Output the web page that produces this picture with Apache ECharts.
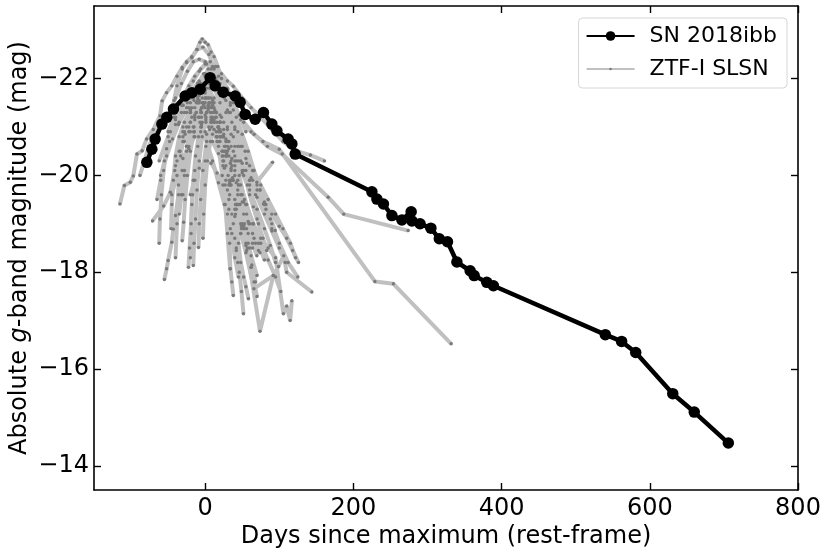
<!DOCTYPE html>
<html>
<head>
<meta charset="utf-8">
<script src="https://cdn.jsdelivr.net/npm/echarts@6/dist/echarts.min.js"></script>
<style>html,body{margin:0;padding:0;background:#fff}#c{width:830px;height:556px}</style>
</head>
<body>
<div id="c"></div>
<script>
// ---- Data ----
const xTicks = [0, 200, 400, 600, 800];
const yTicks = [-22, -20, -18, -16, -14];

const snDays = [-78.7,-71.9,-67.5,-58.4,-51.7,-42.8,-27.0,-17.9,-6.7,6.7,13.5,24.3,40.5,47.2,54.0,67.5,78.7,90.0,96.8,112.0,117.0,121.5,225,231.7,240.6,252,265.5,278,279,290,304.6,316,327,339.7,357.6,363,380,389,540,562,581,631,660,706];
const snMag = [-20.27,-20.54,-20.75,-21.06,-21.20,-21.37,-21.64,-21.71,-21.78,-22.02,-21.85,-21.72,-21.64,-21.51,-21.26,-21.16,-21.30,-21.06,-20.92,-20.75,-20.65,-20.44,-19.66,-19.51,-19.41,-19.17,-19.08,-19.25,-19.06,-19.0,-18.91,-18.69,-18.63,-18.21,-18.03,-17.93,-17.79,-17.72,-16.71,-16.57,-16.34,-15.49,-15.11,-14.47];

const ztf01 = [[-42,-21.55],[-38,-21.85],[-31,-22.2],[-25,-22.35],[-18,-22.45],[-11,-22.6],[-7,-22.75],[-4,-22.82],[0,-22.75],[4,-22.7],[8,-22.55],[12,-22.45],[17,-22.25],[22,-22.0],[30,-21.8],[38,-21.5],[46,-21.25],[55,-20.9]];
const ztf02 = [[-50,-20.9],[-42,-21.2],[-33,-21.5],[-24,-21.75],[-16,-21.95],[-8,-22.15],[0,-22.3],[7,-22.35],[14,-22.25],[22,-22.1],[30,-21.95],[38,-21.84],[50,-21.6],[62,-21.4],[75,-21.2],[90,-20.95],[105,-20.7],[124,-20.5],[142,-20.42],[161,-20.3]];
const ztf03 = [[-62,-20.3],[-50,-20.8],[-40,-21.15],[-30,-21.45],[-18,-21.75],[-8,-21.95],[2,-22.05],[12,-21.95],[22,-21.75],[34,-21.45],[48,-21.15],[62,-20.9],[78,-20.7],[100,-20.54],[229,-17.81],[254,-17.76],[332,-16.52]];
const ztf04 = [[-35,-21.1],[-25,-21.4],[-15,-21.65],[-5,-21.85],[5,-21.9],[15,-21.8],[26,-21.6],[38,-21.35],[52,-21.1],[66,-20.85],[84,-20.6],[104,-20.44],[166,-19.55],[187,-19.2],[274,-18.86]];
const ztf05 = [[-115,-19.41],[-109,-19.79],[-101,-19.86],[-97,-19.99],[-92,-20.44],[-85,-20.51],[-79,-20.75],[-70,-20.95],[-61,-21.23],[-58,-21.54],[-52,-21.71],[-45,-21.85],[-38,-22.05],[-31,-22.23],[-25,-22.33],[-18,-22.43],[-11,-22.6],[-3,-22.65],[5,-22.5],[12,-22.2],[20,-21.9],[28,-21.55],[36,-21.1],[44,-20.6],[52,-20.1],[60,-19.6],[70,-19.1]];
const ztf06 = [[-71,-19.06],[-56,-19.37],[-47,-19.65],[-41,-20.1],[-34,-20.5],[-27,-20.85],[-20,-21.1],[-12,-21.3],[-4,-21.4],[4,-21.35],[12,-21.1],[20,-20.8],[29,-20.4],[38,-19.9],[47,-19.4],[56,-18.9],[64,-18.5]];
const ztf07 = [[-55,-17.85],[-52,-18.07],[-50,-18.24],[-45,-18.62],[-43,-18.89],[-40,-19.17],[-36,-19.6],[-31,-20.1],[-24,-20.6],[-16,-21.0],[-8,-21.2],[0,-21.25],[8,-21.1],[16,-20.8],[24,-20.4],[33,-19.9],[42,-19.4],[52,-18.9]];
const ztf08 = [[-31,-18.65],[-29,-19.03],[-27,-19.5],[-24,-20.0],[-20,-20.5],[-15,-20.9],[-9,-21.2],[-2,-21.45],[6,-21.5],[13,-21.35],[20,-21.1],[28,-20.7],[36,-20.2],[44,-19.7],[52,-19.2],[58,-18.8]];
const ztf09 = [[-22.5,-18.1],[-21,-18.5],[-19,-19.0],[-17,-19.6],[-14,-20.1],[-10,-20.6],[-5,-21.0],[1,-21.2],[8,-21.15],[15,-20.9],[23,-20.5],[31,-20.0],[40,-19.5],[48,-19.0],[55,-18.55],[62,-18.1]];
const ztf10 = [[-16,-18.14],[-15,-18.6],[-13,-19.1],[-11,-19.7],[-8,-20.3],[-4,-20.8],[1,-21.1],[7,-21.3],[14,-21.2],[21,-20.9],[29,-20.45],[37,-19.95],[45,-19.4],[53,-18.9]];
const ztf11 = [[-9,-18.51],[-8,-19.0],[-6,-19.5],[-3,-20.1],[1,-20.6],[6,-20.95],[12,-21.1],[19,-20.95],[27,-20.6],[35,-20.1],[44,-19.6],[53,-19.0],[62,-18.34],[70,-17.93]];
const ztf12 = [[-40,-20.2],[-30,-20.8],[-20,-21.3],[-10,-21.6],[0,-21.75],[8,-21.6],[15,-21.3],[22,-20.8],[28,-20.2],[33,-19.6],[38,-19.0],[42,-18.5],[46,-18.0],[49,-17.6],[51.7,-17.14]];
const ztf13 = [[-30,-20.9],[-20,-21.35],[-10,-21.7],[-2,-21.9],[6,-21.8],[12,-21.5],[18,-21.0],[23,-20.4],[27,-19.8],[30,-19.2],[33,-18.6],[34,-18.07],[36,-17.8],[38,-17.52]];
const ztf14 = [[-25,-20.6],[-15,-21.0],[-5,-21.3],[4,-21.45],[12,-21.3],[20,-20.9],[28,-20.4],[35,-19.8],[41,-19.2],[45,-18.6],[48,-18.2],[52,-17.9],[55,-17.7],[58.4,-17.45]];
const ztf15 = [[-20,-21.1],[-10,-21.5],[0,-21.7],[10,-21.55],[20,-21.1],[28,-20.5],[35,-19.9],[42,-19.3],[48,-18.8],[55,-18.4],[65.8,-17.66],[92,-17.93],[99,-18.12],[106,-18.34],[110,-18.0],[144,-17.59]];
const ztf16 = [[-15,-20.8],[-5,-21.2],[5,-21.4],[15,-21.2],[25,-20.8],[35,-20.3],[45,-19.8],[55,-19.4],[65,-19.0],[75,-18.7],[85,-18.5],[95,-18.3],[105.6,-17.14],[110,-17.3],[114.7,-17.0],[117,-17.41]];
const ztf17 = [[-22,-20.9],[-12,-21.3],[-2,-21.5],[8,-21.4],[18,-21.0],[27,-20.5],[35,-19.9],[42,-19.4],[49,-18.9],[55,-18.6],[74,-16.78],[92,-17.93]];
const ztf18 = [[-28,-20.7],[-18,-21.2],[-8,-21.5],[2,-21.6],[10,-21.4],[17,-21.0],[23,-20.5],[28,-19.9],[32,-19.3],[36,-18.8],[40,-18.3],[45,-17.9]];
const ztf19 = [[-35,-20.5],[-25,-21.0],[-14,-21.4],[-4,-21.6],[5,-21.5],[12,-21.1],[18,-20.6],[23,-20.0],[27,-19.4],[30,-18.8],[33.7,-18.07]];
const ztf20 = [[-20,-21.6],[-10,-21.9],[0,-22.05],[10,-21.9],[20,-21.5],[30,-21.0],[38,-20.5],[46,-20.0],[53,-19.5],[59,-19.0],[64,-18.6],[69.8,-18.34]];
const ztf21 = [[-12,-21.8],[-2,-22.1],[8,-22.0],[18,-21.7],[28,-21.3],[38,-20.8],[48,-20.3],[57,-19.8],[65,-19.35],[72,-19.0],[78,-18.7],[83,-18.45]];
const ztf22 = [[-6,-21.9],[4,-22.2],[14,-22.0],[24,-21.7],[34,-21.3],[44,-20.9],[54,-20.5],[64,-20.1],[74,-19.7],[82,-19.4],[88,-19.1],[94.5,-18.86]];
const ztf23 = [[-18,-21.4],[-8,-21.7],[2,-21.8],[12,-21.6],[22,-21.2],[32,-20.7],[42,-20.3],[52,-20.0],[60,-19.8],[68,-19.6],[78.7,-19.41]];
const ztf24 = [[-25,-21.3],[-15,-21.55],[-5,-21.7],[5,-21.6],[15,-21.3],[25,-20.95],[35,-20.6],[45,-20.3],[55,-20.1],[62,-19.95],[69.8,-19.86],[91,-20.27]];
const ztf25 = [[-45,-19.6],[-38,-20.0],[-30,-20.35],[-22,-20.6],[-14,-20.8],[-6,-20.9],[2,-20.85],[10,-20.7],[18,-20.45],[26,-20.15],[34,-19.8],[42,-19.4],[50,-19.0],[58,-18.6]];
const ztf26 = [[-60,-20.0],[-52,-20.4],[-44,-20.75],[-36,-21.05],[-28,-21.3],[-20,-21.5],[-12,-21.65],[-4,-21.7],[4,-21.6],[12,-21.4],[20,-21.1],[28,-20.75],[36,-20.35],[44,-19.9],[52,-19.45],[60,-19.0],[68,-18.6]];
const ztf27 = [[-38,-20.3],[-30,-20.7],[-22,-21.0],[-14,-21.2],[-6,-21.35],[2,-21.3],[10,-21.15],[18,-20.9],[26,-20.6],[34,-20.25],[42,-19.85],[50,-19.45],[58,-19.05],[66,-18.7],[74,-18.4]];
const ztf28 = [[-48,-21.3],[-40,-21.6],[-32,-21.9],[-24,-22.15],[-16,-22.35],[-8,-22.4],[0,-22.35],[8,-22.2],[16,-21.95],[24,-21.65],[32,-21.3],[40,-20.95],[48,-20.6],[56,-20.25],[64,-19.9]];
const ztf29 = [[-30,-21.0],[-20,-21.3],[-10,-21.5],[0,-21.6],[10,-21.5],[20,-21.25],[30,-20.95],[40,-20.6],[50,-20.25],[60,-19.9],[70,-19.55],[80,-19.2],[90,-18.85],[100,-18.5],[108,-18.2]];
const ztf30 = [[-25,-20.6],[-15,-20.9],[-5,-21.05],[5,-21.0],[15,-20.8],[25,-20.5],[35,-20.15],[45,-19.8],[55,-19.4],[65,-19.0],[75,-18.6],[85,-18.25],[95,-17.9],[102,-17.6]];
const ztf31 = [[-10,-21.9],[0,-22.1],[10,-22.0],[20,-21.7],[30,-21.35],[40,-21.0],[50,-20.6],[60,-20.2],[70,-19.8],[80,-19.4],[90,-19.0],[100,-18.6],[112,-18.2],[125,-17.9]];
const ztf32 = [[-40,-18.3],[-38,-19.0],[-36,-19.8],[-33,-20.4],[-28,-20.9],[-20,-21.3],[-10,-21.55],[0,-21.6],[10,-21.45],[20,-21.1],[30,-20.6],[40,-20.1],[50,-19.6]];
const ztf33 = [[-35,-19.2],[-32,-19.6],[-28,-20.1],[-22,-20.55],[-15,-20.9],[-7,-21.1],[1,-21.15],[9,-21.0],[17,-20.7],[25,-20.3],[33,-19.85],[41,-19.4],[49,-18.95],[57,-18.5],[63,-18.15],[68,-17.8]];
const ztf34 = [[-65,-19.5],[-60,-19.9],[-55,-20.3],[-48,-20.7],[-40,-21.05],[-32,-21.3],[-24,-21.5],[-16,-21.6],[-8,-21.55],[0,-21.4],[8,-21.1],[16,-20.7],[24,-20.2],[30,-19.7],[36,-19.2],[40,-18.7],[44,-18.2]];
const ztf35 = [[-5,-21.4],[5,-21.45],[15,-21.3],[25,-21.1],[35,-20.85],[45,-20.6],[55,-20.35],[65,-20.1],[75,-19.8],[85,-19.5],[95,-19.2],[105,-18.9],[115,-18.6],[122,-18.3]];
const ztf36 = [[-30,-19.6],[-28,-20.0],[-25,-20.5],[-20,-20.9],[-14,-21.15],[-6,-21.3],[2,-21.3],[10,-21.2],[20,-20.95],[30,-20.7],[40,-20.4],[50,-20.05],[60,-19.7],[70,-19.3],[80,-18.9],[88,-18.55],[95,-18.2]];
const ztf37 = [[-46,-18.9],[-45,-19.4],[-43,-19.9],[-40,-20.4],[-35,-20.8],[-28,-21.1],[-20,-21.35],[-12,-21.5],[-4,-21.5],[4,-21.4],[12,-21.15],[20,-20.8],[28,-20.4],[36,-19.9],[44,-19.4],[52,-18.95],[60,-18.5]];
const ztf38 = [[-20,-18.3],[-19,-18.8],[-18,-19.4],[-16,-19.9],[-13,-20.4],[-9,-20.8],[-4,-21.1],[2,-21.3],[9,-21.3],[16,-21.1],[24,-20.8],[32,-20.4],[40,-20.0],[48,-19.6],[56,-19.2],[64,-18.8],[72,-18.45]];
const ztf39 = [[-62,-18.6],[-61,-19.1],[-59,-19.6],[-56,-20.1],[-52,-20.55],[-47,-20.9],[-40,-21.2],[-32,-21.45],[-24,-21.6],[-16,-21.7],[-8,-21.65],[0,-21.5],[8,-21.2],[16,-20.8],[24,-20.3],[32,-19.8],[40,-19.3]];
const ztf40 = [[-3,-18.7],[-2,-19.2],[0,-19.8],[3,-20.3],[7,-20.7],[12,-20.95],[18,-21.0],[25,-20.85],[32,-20.55],[40,-20.2],[48,-19.8],[56,-19.4],[64,-19.0],[72,-18.6],[80,-18.25]];
const ztf41 = [[-88,-20.0],[-82,-20.3],[-76,-20.6],[-70,-20.8],[-62,-21.0],[-54,-21.15],[-46,-21.3],[-38,-21.4],[-30,-21.45],[-22,-21.4],[-14,-21.25],[-6,-21.0],[2,-20.7],[10,-20.3],[18,-19.85],[26,-19.4],[34,-18.9],[42,-18.45]];
const ztf42 = [[0,-20.9],[10,-20.85],[20,-20.7],[30,-20.5],[40,-20.3],[50,-20.1],[60,-19.9],[70,-19.7],[80,-19.45],[90,-19.2],[100,-18.95],[110,-18.7],[118,-18.45],[126,-18.2]];
const ztf43 = [[-30,-21.6],[-22,-21.85],[-14,-22.05],[-6,-22.2],[2,-22.3],[10,-22.25],[18,-22.05],[26,-21.8],[34,-21.5],[42,-21.2],[50,-20.85],[58,-20.5],[66,-20.1],[74,-19.7],[82,-19.3],[90,-18.9]];
const ztf44 = [[-20,-19.6],[-14,-19.9],[-8,-20.15],[0,-20.3],[8,-20.25],[16,-20.05],[24,-19.8],[32,-19.5],[40,-19.15],[48,-18.8],[56,-18.45],[62,-18.1],[66,-17.8],[70,-17.5]];
const ztfCurves = [ztf01,ztf02,ztf03,ztf04,ztf05,ztf06,ztf07,ztf08,ztf09,ztf10,ztf11,ztf12,ztf13,ztf14,ztf15,ztf16,ztf17,ztf18,ztf19,ztf20,ztf21,ztf22,ztf23,ztf24,ztf25,ztf26,ztf27,ztf28,ztf29,ztf30,ztf31,ztf32,ztf33,ztf34,ztf35,ztf36,ztf37,ztf38,ztf39,ztf40,ztf41,ztf42,ztf43,ztf44];

// ---- Chart ----
const FONT = 'DejaVu Sans';
const fmt = v => (v < 0 ? '\u2212' + (-v) : String(v));
const dotPath = 'path://M0,0M12,12M6,4.4A1.6,1.6,0,1,1,6,7.6A1.6,1.6,0,1,1,6,4.4Z';

const series = ztfCurves.map(c => ({
  type: 'line', name: 'ZTF-I SLSN', data: c,
  symbol: dotPath, symbolSize: 13, showSymbol: true,
  lineStyle: { color: '#c0c0c0', width: 4 },
  itemStyle: { color: '#7a7a7a' },
  z: 2, silent: true, animation: false
}));
series.push({
  type: 'line', name: 'SN 2018ibb',
  data: snDays.map((d, i) => [d, snMag[i]]),
  symbol: 'circle', symbolSize: 11.5,
  lineStyle: { color: '#000', width: 4.5 },
  itemStyle: { color: '#000' },
  z: 5, silent: true, animation: false
});

const axLine = { show: true, onZero: false, lineStyle: { color: '#000', width: 1.6 } };
const tick = vals => ({ show: true, inside: true, length: 7, customValues: vals, lineStyle: { color: '#000', width: 1.4 } });

const option = {
  animation: false,
  backgroundColor: '#fff',
  grid: { left: 94, right: 32, top: 6, bottom: 66, containLabel: false, outerBoundsMode: 'none' },
  legend: {
    data: ['SN 2018ibb', 'ZTF-I SLSN'],
    orient: 'vertical', right: 43, top: 18,
    itemWidth: 48, itemHeight: 12, itemGap: 9,
    padding: [6, 10, 7, 7],
    borderColor: '#d6d6d6', borderWidth: 1, borderRadius: 4,
    backgroundColor: 'rgba(255,255,255,0.8)',
    textStyle: { fontFamily: FONT, fontSize: 22, color: '#000', lineHeight: 24, padding: [0, 0, 0, 10] }
  },
  xAxis: [{
    type: 'value', min: -150, max: 800, position: 'bottom',
    axisLine: axLine, axisTick: tick(xTicks),
    axisLabel: { customValues: xTicks, formatter: fmt, fontFamily: FONT, fontSize: 24, color: '#000', margin: 7 },
    splitLine: { show: false },
    name: 'Days since maximum (rest-frame)', nameLocation: 'middle', nameGap: 35, nameMoveOverlap: false,
    nameTextStyle: { fontFamily: FONT, fontSize: 24, color: '#000' }
  }, {
    type: 'value', min: -150, max: 800, position: 'top',
    axisLine: axLine, axisTick: tick(xTicks),
    axisLabel: { show: false }, splitLine: { show: false }
  }],
  yAxis: [{
    type: 'value', min: -23.5, max: -13.5, inverse: true, position: 'left',
    axisLine: axLine, axisTick: tick(yTicks),
    axisLabel: { customValues: yTicks, formatter: fmt, fontFamily: FONT, fontSize: 24, color: '#000', margin: 5 },
    splitLine: { show: false },
    name: 'Absolute {i|g}-band magnitude (mag)', nameLocation: 'middle', nameGap: 62, nameMoveOverlap: false,
    nameTextStyle: { fontFamily: FONT, fontSize: 24, color: '#000',
      rich: { i: { fontFamily: FONT, fontSize: 24, fontStyle: 'italic', color: '#000' } } }
  }, {
    type: 'value', min: -23.5, max: -13.5, inverse: true, position: 'right',
    axisLine: axLine, axisTick: tick(yTicks),
    axisLabel: { show: false }, splitLine: { show: false }
  }],
  series: series
};

const chart = echarts.init(document.getElementById('c'), null, { renderer: 'canvas' });
chart.setOption(option);
</script>
</body>
</html>
